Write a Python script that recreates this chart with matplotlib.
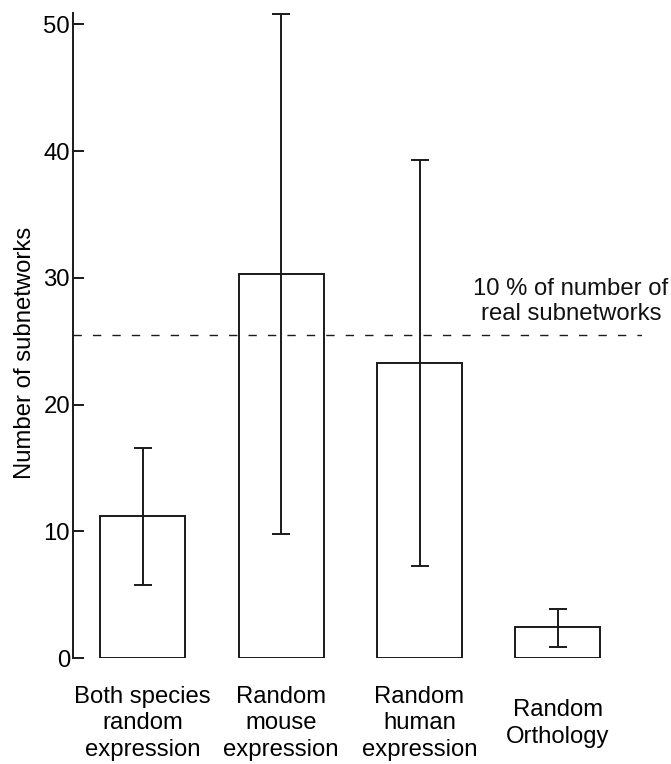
import numpy as np
import matplotlib.pyplot as plt

plt.rcParams['font.family'] = ['Liberation Sans', 'DejaVu Sans']

categories = ['Both species\nrandom\nexpression', 'Random\nmouse\nexpression',
              'Random\nhuman\nexpression', 'Random\nOrthology']
means = [11.2, 30.3, 23.25, 2.42]
err_low = [5.8, 9.8, 7.3, 0.9]
err_high = [16.55, 50.85, 39.3, 3.9]
threshold = 25.5
threshold_label = '10 % of number of\nreal subnetworks'
yticks = [0, 10, 20, 30, 40, 50]

col = '#1a1a1a'
fs = 17.2
fig = plt.figure(figsize=(6.71, 7.64), dpi=100)
ax = fig.add_axes([0.1095, 0.1387, 0.8468, 0.8443])

x = np.arange(len(categories))
means = np.array(means)
yerr = [means - np.array(err_low), np.array(err_high) - means]
ax.bar(x, means, width=0.615, facecolor='white', edgecolor=col, linewidth=1.4)
ax.errorbar(x, means, yerr=yerr, fmt='none', ecolor=col, elinewidth=1.4,
            capsize=6.5, capthick=1.4)

ax.axhline(threshold, color=col, linestyle=(0, (6, 8)), linewidth=1.0)
ax.text(3.095, 26.25, threshold_label, ha='center', va='bottom', fontsize=fs,
        color='#111111', linespacing=1.2)

ax.set_xlim(-0.5, 3.605)
ax.set_ylim(0, 50.9)
ax.set_yticks(yticks)
ax.set_xticks(x)
ax.set_xticklabels(categories, fontsize=fs, linespacing=1.26)
for lab in ax.get_xticklabels():
    lab.set_va('center')
ax.tick_params(axis='x', length=0, pad=47)
ax.tick_params(axis='y', direction='in', length=8, width=1.4, color=col,
               labelsize=fs, pad=2.5)

for s in ['top', 'right', 'bottom']:
    ax.spines[s].set_visible(False)
ax.spines['left'].set_linewidth(1.4)
ax.spines['left'].set_color(col)

ax.set_ylabel('Number of subnetworks', fontsize=fs)
ax.yaxis.set_label_coords(-0.066, 0.473)

fig.savefig('out.png', dpi=100)
